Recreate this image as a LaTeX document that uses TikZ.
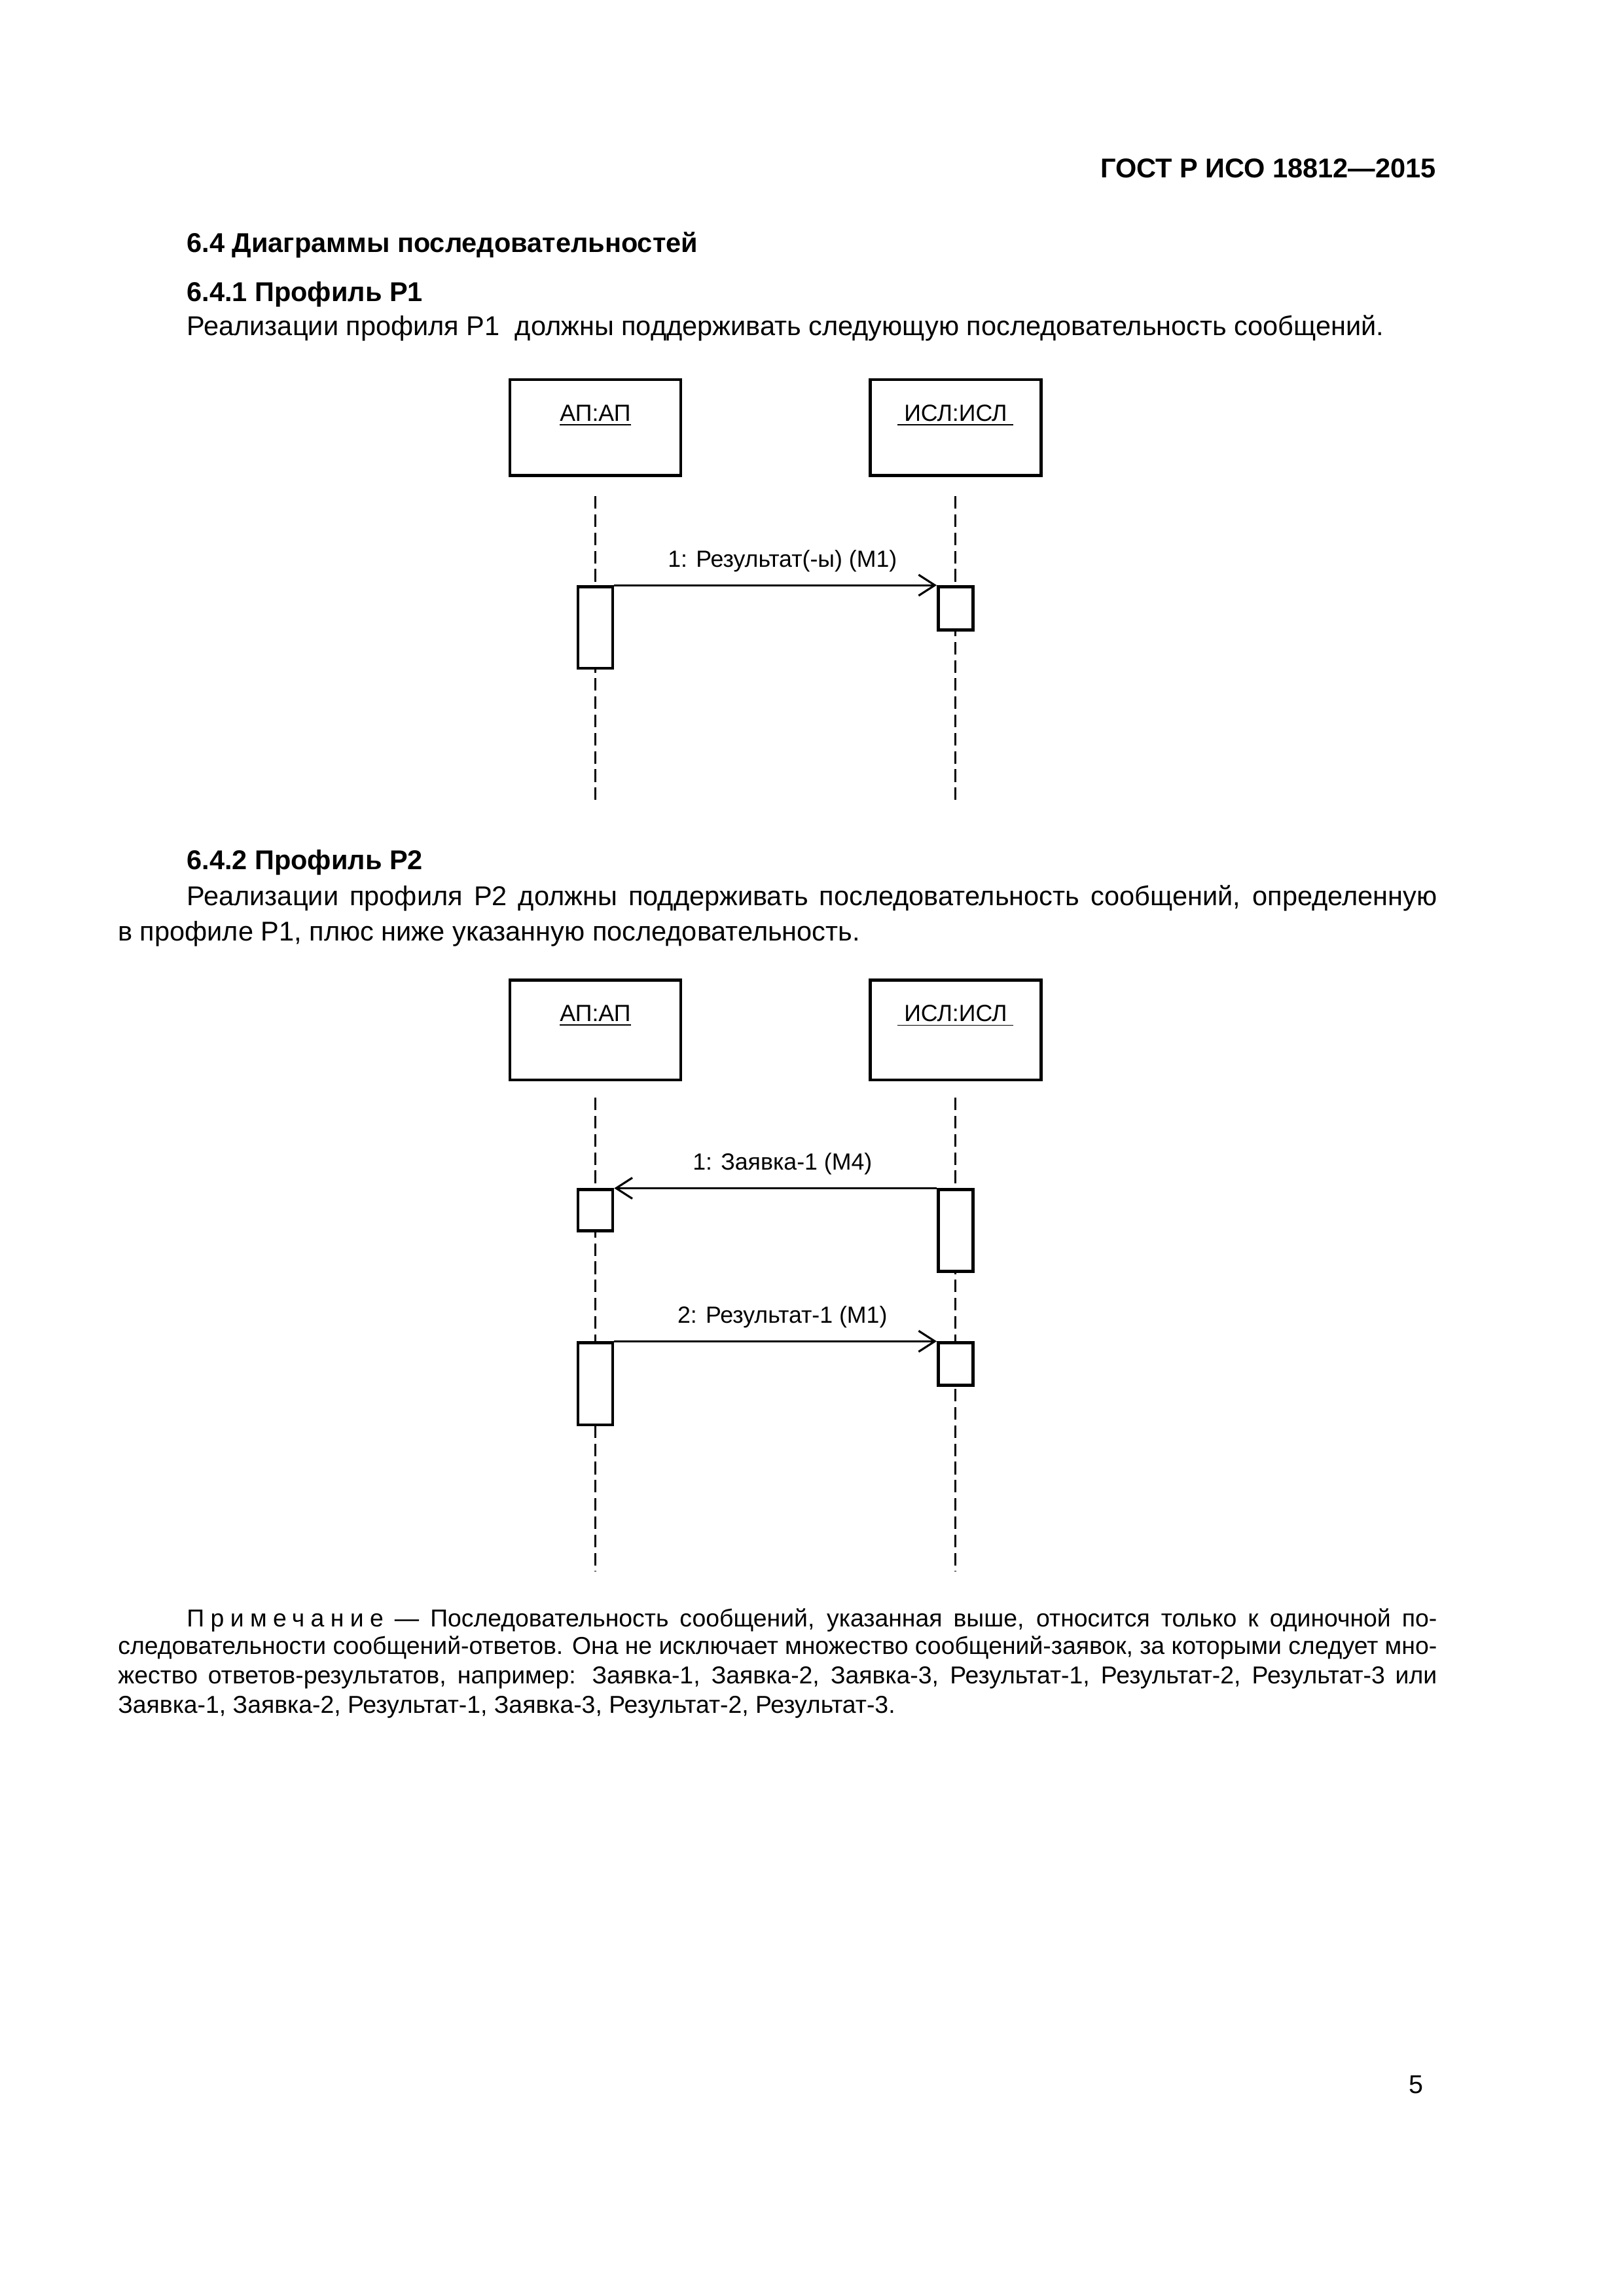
\documentclass[tikz,border=0pt]{standalone}
\usepackage{fontspec}
\setmainfont{Liberation Sans}
\newfontfamily\spacedfont[LetterSpace=25]{Liberation Sans}
\usetikzlibrary{arrows.meta}

\begin{document}
\begin{tikzpicture}[
    obj/.style={draw, line width=1.1pt, minimum width=2.21cm, inner sep=0pt},
    act/.style={draw, fill=white, line width=1.1pt, minimum width=0.45cm, inner sep=0pt, anchor=north},
    lifeline/.style={line width=0.75pt, dash pattern=on 4.6pt off 2.1pt},
    msg/.style={line width=0.75pt, -{Straight Barb[length=2.1mm,width=2.7mm]}},
    msglbl/.style={above=4.5pt, xshift=0.9mm, inner sep=0pt, font=\fontsize{8.6}{10}\selectfont},
    objlbl/.style={anchor=base, inner sep=0pt, font=\fontsize{8.6}{10}\selectfont},
    txt/.style={anchor=base west, inner sep=0pt, font=\fontsize{10}{12}\selectfont},
    hd/.style={anchor=base west, inner sep=0pt, font=\bfseries\fontsize{10}{12}\selectfont},
    note/.style={anchor=base west, inner sep=0pt, font=\fontsize{9}{11}\selectfont}
]
    \useasboundingbox (0,0) rectangle (21,-29.7);

    % page text
    \node[hd, anchor=base east] (gost) at (18.58,-2.30) {ГОСТ Р ИСО 18812—2015};
    \node[hd] (sec) at (2.41,-3.26) {6.4 Диаграммы последовательностей};
    \node[hd] (subA) at (2.41,-3.90) {6.4.1 Профиль Р1};
    \node[txt] (parA) at (2.41,-4.34) {Реализации профиля Р1 \ должны поддерживать следующую последовательность сообщений.};

    % diagram P1: objects and lifelines
    \node[obj, minimum height=1.24cm] (ap1) at (7.70,-5.53) {};
    \node[obj, minimum height=1.24cm] (isl1) at (12.36,-5.53) {};
    \node[objlbl] (ap1lbl) at (7.70,-5.445) {\underline{АП:АП}};
    \node[objlbl] (isl1lbl) at (12.36,-5.445) {\underline{\ ИСЛ:ИСЛ\ }};
    \coordinate (ap1end) at (7.70,-10.38);
    \coordinate (isl1end) at (12.36,-10.38);
    \draw[lifeline] ([yshift=-2.5mm]ap1.south) -- (ap1end);
    \draw[lifeline] ([yshift=-2.5mm]isl1.south) -- (isl1end);

    % activations and message
    \node[act, minimum height=1.055cm] (a1) at (7.70,-7.57) {};
    \node[act, minimum height=0.56cm] (b1) at (12.36,-7.57) {};
    \draw[msg] (a1.north east) -- (b1.north west) node[msglbl, midway] (m1) {1: Результат(-ы) (М1)};

    \node[hd] (subB) at (2.41,-11.25) {6.4.2 Профиль Р2};
    \node[txt] (parB1) at (2.41,-11.71) {\makebox[16.17cm][s]{Реализации профиля Р2 должны поддерживать последовательность сообщений, определенную}};
    \node[txt] (parB2) at (1.52,-12.17) {в профиле Р1, плюс ниже указанную последовательность.};

    % diagram P2: objects and lifelines
    \node[obj, minimum height=1.29cm] (ap2) at (7.70,-13.325) {};
    \node[obj, minimum height=1.29cm] (isl2) at (12.36,-13.325) {};
    \node[objlbl] (ap2lbl) at (7.70,-13.21) {\underline{АП:АП}};
    \node[objlbl] (isl2lbl) at (12.36,-13.21) {\underline{\ ИСЛ:ИСЛ\ }};
    \coordinate (ap2end) at (7.70,-20.33);
    \coordinate (isl2end) at (12.36,-20.33);
    \draw[lifeline] ([yshift=-2.1mm]ap2.south) -- (ap2end);
    \draw[lifeline] ([yshift=-2.1mm]isl2.south) -- (isl2end);

    % activations and messages
    \node[act, minimum height=0.53cm] (a2) at (7.70,-15.37) {};
    \node[act, minimum height=1.055cm] (b2) at (12.36,-15.37) {};
    \node[act, minimum height=1.06cm] (a3) at (7.70,-17.35) {};
    \node[act, minimum height=0.55cm] (b3) at (12.36,-17.35) {};
    \draw[msg] (b2.north west) -- (a2.north east) node[msglbl, midway] (m2) {1: Заявка-1 (М4)};
    \draw[msg] (a3.north east) -- (b3.north west) node[msglbl, midway] (m3) {2: Результат-1 (М1)};

    % note
    \node[note] (nt1) at (2.41,-21.04) {\makebox[16.17cm][s]{{\spacedfont Примечание} — Последовательность сообщений, указанная выше, относится только к одиночной по-}};
    \node[note] (nt2) at (1.52,-21.40) {\makebox[17.06cm][s]{следовательности сообщений-ответов. Она не исключает множество сообщений-заявок, за которыми следует мно-}};
    \node[note] (nt3) at (1.52,-21.78) {\makebox[17.06cm][s]{жество ответов-результатов, например: Заявка-1, Заявка-2, Заявка-3, Результат-1, Результат-2, Результат-3 или}};
    \node[note] (nt4) at (1.52,-22.16) {Заявка-1, Заявка-2, Результат-1, Заявка-3, Результат-2, Результат-3.};

    \node[txt, anchor=base east, font=\fontsize{9.5}{11}\selectfont] (pg) at (18.42,-27.08) {5};
\end{tikzpicture}
\end{document}
